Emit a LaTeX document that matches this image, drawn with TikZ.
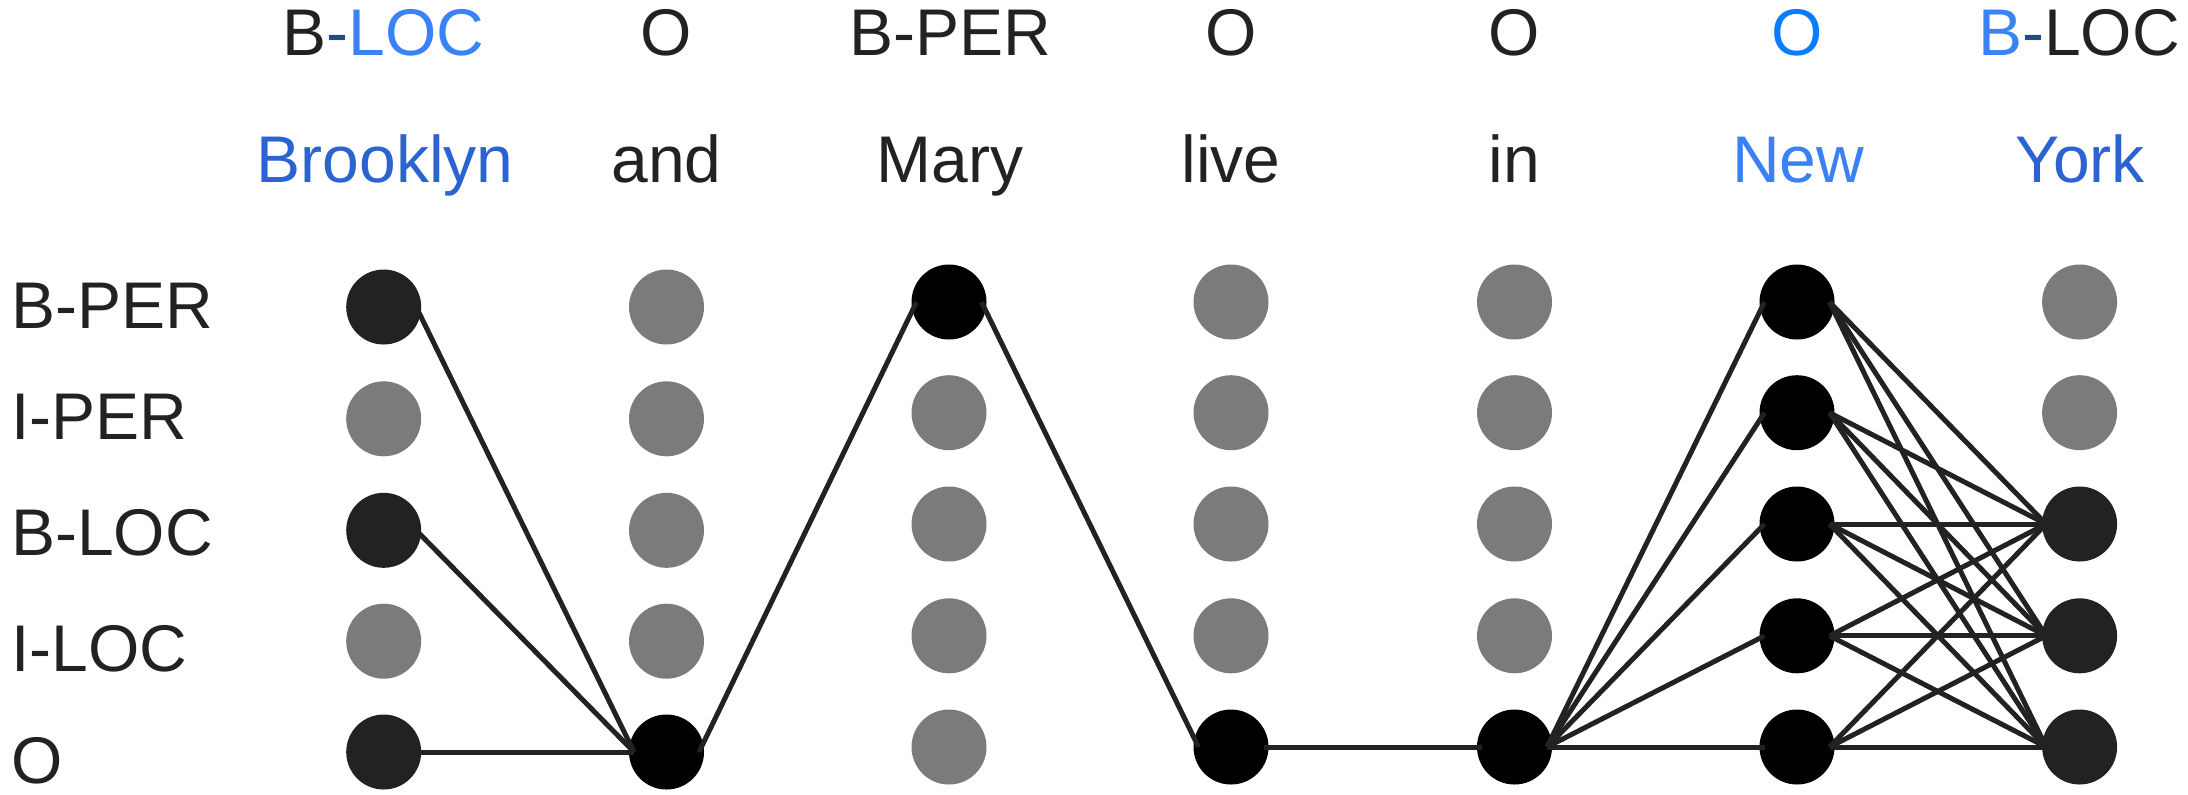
\documentclass[tikz,border=0pt]{standalone}
\usepackage{fontspec}
\setmainfont{Liberation Sans}
\definecolor{ink}{HTML}{222222}
\definecolor{dotgray}{HTML}{7B7B7B}
\definecolor{hyph}{HTML}{204E80}
\definecolor{lblue}{HTML}{3A82F7}
\definecolor{wblue}{HTML}{2B63D1}
\definecolor{nblue}{HTML}{3A80F6}
\definecolor{oblue}{HTML}{0A7CFF}
\tikzset{
  dot/.style={circle, minimum size=37.5pt, inner sep=0pt, outer sep=0pt},
  g/.style={dot, fill=dotgray},
  d/.style={dot, fill=ink},
  k/.style={dot, fill=black},
  lab/.style={anchor=base, inner sep=0pt, outer sep=0pt, text=ink, font=\fontsize{33pt}{40pt}\selectfont},
  rowlab/.style={lab, anchor=base west},
  conn/.style={draw=ink, line width=2.5pt}
}
\begin{document}
\begin{tikzpicture}[x=0.5pt, y=-0.5pt]
\useasboundingbox (0,0) rectangle (2188,794);
% top tags
\node[lab] (t1) at (383.7,55) {B{\color{hyph}-}{\color{lblue}LOC}};
\node[lab] (t2) at (666.5,55) {O};
\node[lab] (t3) at (950,55) {B-PER};
\node[lab] (t4) at (1231,55) {O};
\node[lab] (t5) at (1514.5,55) {O};
\node[lab, text=oblue] (t6) at (1797,55) {O};
\node[lab] (t7) at (2079,55) {{\color{lblue}B}{\color{hyph}-}LOC};
% words
\node[lab, text=wblue] (w1) at (385,182) {Brooklyn};
\node[lab] (w2) at (666.5,182) {and};
\node[lab] (w3) at (950,182) {Mary};
\node[lab] (w4) at (1231,182) {live};
\node[lab] (w5) at (1514.5,182) {in};
\node[lab, text=nblue] (w6) at (1798,182) {New};
\node[lab, text=wblue] (w7) at (2080,182) {York};
% row labels
\node[rowlab] (r1) at (11,328.3) {B-PER};
\node[rowlab] (r2) at (11,439) {I-PER};
\node[rowlab] (r3) at (11,555.3) {B-LOC};
\node[rowlab] (r4) at (11,671.7) {I-LOC};
\node[rowlab] (r5) at (11,783.3) {O};
% circles
\foreach \r/\y/\s in {1/307/d,2/418.8/g,3/530.3/d,4/641.2/g,5/752/d}
  \node[\s] (n1\r) at (383.7,\y) {};
\foreach \r/\y/\s in {1/307/g,2/418.8/g,3/530.3/g,4/641.2/g,5/752/k}
  \node[\s] (n2\r) at (666.5,\y) {};
\foreach \r/\y/\s in {1/302/k,2/412.7/g,3/524/g,4/635.8/g,5/747/g}
  \node[\s] (n3\r) at (949,\y) {};
\foreach \r/\y/\s in {1/302/g,2/412.7/g,3/524/g,4/635.8/g,5/747/k}
  \node[\s] (n4\r) at (1231,\y) {};
\foreach \r/\y/\s in {1/302/g,2/412.7/g,3/524/g,4/635.8/g,5/747/k}
  \node[\s] (n5\r) at (1514.5,\y) {};
\foreach \r/\y/\s in {1/302/k,2/412.7/k,3/524/k,4/635.8/k,5/747/k}
  \node[\s] (n6\r) at (1797,\y) {};
\foreach \r/\y/\s in {1/302/g,2/412.7/g,3/524/d,4/635.8/d,5/747/d}
  \node[\s] (n7\r) at (2079.6,\y) {};
% connectors
\foreach \a/\b in {11/25, 13/25, 15/25, 25/31, 31/45, 45/55, 55/61, 55/62, 55/63, 55/64, 55/65}
  \draw[conn] ([xshift=-2.5pt]n\a.east) -- ([xshift=2.5pt]n\b.west);
\foreach \i in {1,...,5}
  \foreach \j in {3,4,5}
    \draw[conn] ([xshift=-2.5pt]n6\i.east) -- ([xshift=2pt]n7\j.west);
\end{tikzpicture}
\end{document}
